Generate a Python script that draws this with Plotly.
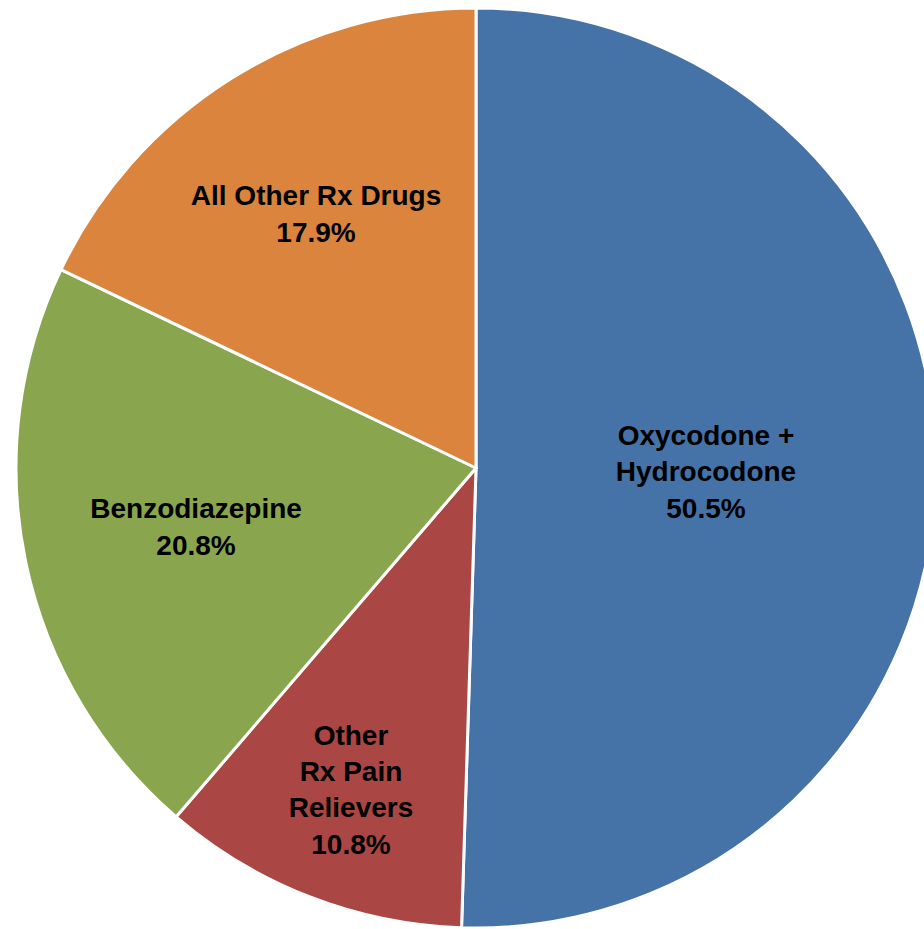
import plotly.graph_objects as go

labels = ["Oxycodone +<br>Hydrocodone", "Other<br>Rx Pain<br>Relievers", "Benzodiazepine", "All Other Rx Drugs"]
values = [50.5, 10.8, 20.8, 17.9]
colors = ["#4572A7", "#AA4643", "#89A54E", "#DB843D"]

fig = go.Figure(go.Pie(
    labels=labels,
    values=values,
    sort=False,
    direction="clockwise",
    rotation=0,
    marker=dict(colors=colors, line=dict(color="white", width=3)),
    texttemplate="%{label}<br>%{value:.1f}%",
    textposition="inside",
    insidetextorientation="horizontal",
    textfont=dict(family="Liberation Sans, Arial, sans-serif", size=28, color="black", weight="bold"),
    domain=dict(x=[0.01695, 0.99153], y=[0.00108, 0.99139]),
    hoverinfo="label+percent",
    showlegend=False,
))

fig.update_layout(
    width=944, height=929,
    margin=dict(l=0, r=0, t=0, b=0),
    paper_bgcolor="white",
    plot_bgcolor="white",
)

fig.write_html(
    "out.html",
    config={"displayModeBar": False},
    post_script="document.body.style.margin='0';document.body.style.overflow='hidden';document.documentElement.style.overflow='hidden';",
)
